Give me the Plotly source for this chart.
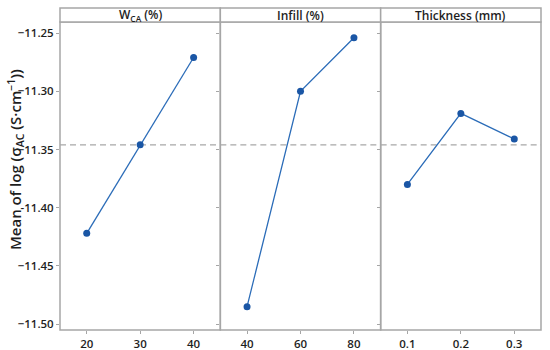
import plotly.graph_objects as go
from plotly.subplots import make_subplots

# Data
wca_levels = [20, 30, 40]
wca_means = [-11.422, -11.346, -11.271]
infill_levels = [40, 60, 80]
infill_means = [-11.485, -11.300, -11.254]
thick_levels = [0.1, 0.2, 0.3]
thick_means = [-11.380, -11.319, -11.341]
overall_mean = -11.346
panel_titles = ["W<sub>CA</sub> (%)", "Infill (%)", "Thickness (mm)"]
y_ticks = [-11.25, -11.30, -11.35, -11.40, -11.45, -11.50]
y_ticklabels = ["\u221211.25", "\u221211.30", "\u221211.35", "-11.40", "\u221211.45", "\u221211.50"]
y_title = "Mean of log (\u03c3<sub>AC</sub> (S\u00b7cm<sup>\u22121</sup>))"

FONT = "Open Sans"
LINE = "#2b6cb8"
MARK = "#1a56a5"
GRID = "#a6a6a6"
TXT = "#1e1e1e"

W, H = 550, 350
ML, MR, MT, MB = 60, 9, 22, 20
plot_w = W - ML - MR
plot_h = H - MT - MB

fig = make_subplots(rows=1, cols=3, shared_yaxes=True, horizontal_spacing=0)

series = [(wca_levels, wca_means), (infill_levels, infill_means), (thick_levels, thick_means)]
xranges = [[15, 45], [30, 90], [0.05, 0.35]]
xticks = [wca_levels, infill_levels, thick_levels]

for i, (xs, ys) in enumerate(series, start=1):
    fig.add_trace(go.Scatter(x=xranges[i-1], y=[overall_mean, overall_mean], mode="lines",
                             line=dict(color="#a8a8a8", width=1.3, dash="6px,4px"),
                             showlegend=False, hoverinfo="skip"), row=1, col=i)
    fig.add_trace(go.Scatter(x=xs, y=ys, mode="lines+markers",
                             line=dict(color=LINE, width=1.3),
                             marker=dict(color=MARK, size=7),
                             showlegend=False), row=1, col=i)
    fig.update_xaxes(range=xranges[i-1], tickvals=xticks[i-1],
                     ticktext=[str(v) for v in xticks[i-1]],
                     showgrid=False, zeroline=False, showline=False, automargin=False,
                     ticks="outside", ticklen=3, tickcolor=GRID, tickwidth=1,
                     tickfont=dict(family=FONT, size=11.5, color=TXT, weight=600),
                     row=1, col=i)

fig.update_yaxes(range=[-11.505, -11.2405], tickvals=y_ticks, ticktext=y_ticklabels,
                 showgrid=False, zeroline=False, showline=False, automargin=False,
                 ticks="outside", ticklen=3, tickcolor=GRID, tickwidth=1,
                 tickfont=dict(family=FONT, size=11.5, color=TXT, weight=600))

# Y axis title as a rotated annotation
fig.add_annotation(xref="paper", yref="paper", x=(15 - ML) / plot_w, y=(H - MB - 160) / plot_h,
                   text=y_title, textangle=-90, showarrow=False,
                   xanchor="center", yanchor="middle",
                   font=dict(family=FONT, size=15, color=TXT, weight=600))

# Panel frames and strip headers
doms = [fig.layout.xaxis.domain, fig.layout.xaxis2.domain, fig.layout.xaxis3.domain]
strip_top = 1 + 14 / plot_h
for d, t in zip(doms, panel_titles):
    fig.add_shape(type="rect", xref="paper", yref="paper", x0=d[0], x1=d[1], y0=0, y1=1,
                  line=dict(color=GRID, width=1.5), layer="below")
    fig.add_shape(type="rect", xref="paper", yref="paper", x0=d[0], x1=d[1], y0=1, y1=strip_top,
                  line=dict(color=GRID, width=1.5), fillcolor="white")
    fig.add_annotation(xref="paper", yref="paper", x=(d[0] + d[1]) / 2, y=(1 + strip_top) / 2,
                       text=t, showarrow=False, xanchor="center", yanchor="middle",
                       font=dict(family=FONT, size=12, color=TXT, weight=600))

fig.update_layout(width=W, height=H, margin=dict(l=ML, r=MR, t=MT, b=MB),
                  plot_bgcolor="white", paper_bgcolor="white")

fig.write_html("out.html", config={"displayModeBar": False},
               post_script="document.body.style.margin='0';document.body.style.overflow='hidden';")
